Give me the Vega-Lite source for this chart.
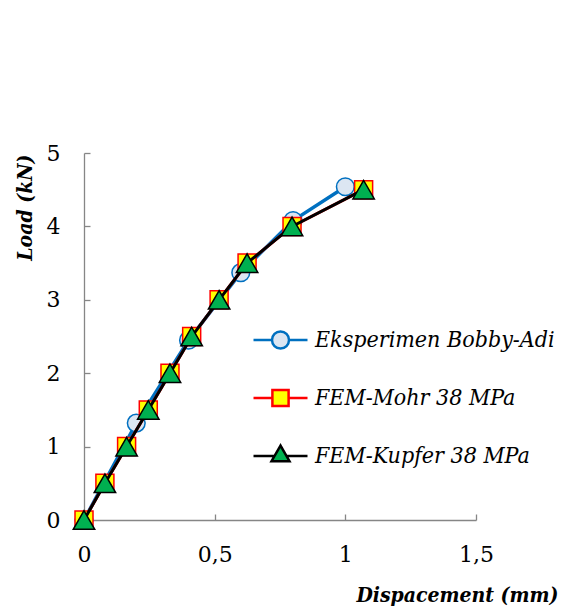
{
  "$schema": "https://vega.github.io/schema/vega-lite/v6.json",
  "width": 392,
  "height": 367,
  "autosize": {"type": "none"},
  "padding": {"left": 84, "top": 153, "right": 87, "bottom": 91},
  "background": "white",
  "config": {
    "view": {"stroke": null},
    "legend": {
      "orient": "none", "legendX": 168, "legendY": 158, "title": null,
      "padding": 0, "symbolSize": 2916, "symbolStrokeWidth": 2.5, "symbolOpacity": 1,
      "labelFont": "DejaVu Serif Condensed", "labelFontSize": 23, "labelFontStyle": "italic", "labelColor": "black",
      "labelOffset": 6, "rowPadding": 0, "clipHeight": 58, "labelLimit": 400
    }
  },
  "data": {
    "values": [
      {"series": "\u00a0Eksperimen Bobby-Adi", "disp": 0, "load": 0},
      {"series": "\u00a0Eksperimen Bobby-Adi", "disp": 0.2, "load": 1.32},
      {"series": "\u00a0Eksperimen Bobby-Adi", "disp": 0.4, "load": 2.45},
      {"series": "\u00a0Eksperimen Bobby-Adi", "disp": 0.6, "load": 3.37},
      {"series": "\u00a0Eksperimen Bobby-Adi", "disp": 0.8, "load": 4.08},
      {"series": "\u00a0Eksperimen Bobby-Adi", "disp": 1.0, "load": 4.54},
      {"series": "FEM-Mohr 38 MPa", "disp": 0, "load": 0},
      {"series": "FEM-Mohr 38 MPa", "disp": 0.08, "load": 0.5},
      {"series": "FEM-Mohr 38 MPa", "disp": 0.163, "load": 1.0},
      {"series": "FEM-Mohr 38 MPa", "disp": 0.246, "load": 1.5},
      {"series": "FEM-Mohr 38 MPa", "disp": 0.329, "load": 2.0},
      {"series": "FEM-Mohr 38 MPa", "disp": 0.412, "load": 2.5},
      {"series": "FEM-Mohr 38 MPa", "disp": 0.517, "load": 3.0},
      {"series": "FEM-Mohr 38 MPa", "disp": 0.624, "load": 3.5},
      {"series": "FEM-Mohr 38 MPa", "disp": 0.796, "load": 4.0},
      {"series": "FEM-Mohr 38 MPa", "disp": 1.07, "load": 4.5},
      {"series": "FEM-Kupfer 38 MPa", "disp": 0, "load": 0},
      {"series": "FEM-Kupfer 38 MPa", "disp": 0.08, "load": 0.5},
      {"series": "FEM-Kupfer 38 MPa", "disp": 0.163, "load": 1.0},
      {"series": "FEM-Kupfer 38 MPa", "disp": 0.246, "load": 1.5},
      {"series": "FEM-Kupfer 38 MPa", "disp": 0.329, "load": 2.0},
      {"series": "FEM-Kupfer 38 MPa", "disp": 0.412, "load": 2.5},
      {"series": "FEM-Kupfer 38 MPa", "disp": 0.517, "load": 3.0},
      {"series": "FEM-Kupfer 38 MPa", "disp": 0.624, "load": 3.5},
      {"series": "FEM-Kupfer 38 MPa", "disp": 0.796, "load": 4.0},
      {"series": "FEM-Kupfer 38 MPa", "disp": 1.07, "load": 4.5}
    ]
  },
  "encoding": {
    "x": {
      "field": "disp", "type": "quantitative",
      "scale": {"domain": [0, 1.5], "nice": false, "zero": false},
      "axis": {
        "values": [0, 0.5, 1, 1.5], "grid": false,
        "domainColor": "#868686", "domainWidth": 1.3,
        "tickColor": "#868686", "tickSize": -6, "tickWidth": 1.3,
        "labelFont": "DejaVu Serif", "labelFontSize": 22, "labelColor": "black",
        "labelPadding": 30, "labelFlush": false,
        "labelExpr": "replace(format(datum.value, '~g'), '.', ',')",
        "title": "Dispacement (mm)",
        "titleFont": "DejaVu Serif Condensed", "titleFontSize": 21, "titleFontStyle": "italic", "titleFontWeight": "bold", "titleColor": "black",
        "titleAnchor": null, "titleAlign": "right", "titleBaseline": "alphabetic",
        "titleX": 474, "titleY": 81
      }
    },
    "y": {
      "field": "load", "type": "quantitative",
      "scale": {"domain": [0, 5], "nice": false},
      "axis": {
        "values": [0, 1, 2, 3, 4, 5], "grid": false,
        "domainColor": "#868686", "domainWidth": 1.3,
        "tickColor": "#868686", "tickSize": -6, "tickWidth": 1.3,
        "labelFont": "DejaVu Serif", "labelFontSize": 22, "labelColor": "black",
        "labelPadding": 30, "labelFlush": false,
        "title": "Load (kN)",
        "titleFont": "DejaVu Serif Condensed", "titleFontSize": 21, "titleFontStyle": "italic", "titleFontWeight": "bold", "titleColor": "black",
        "titleAngle": -90, "titleAlign": "right", "titleBaseline": "alphabetic",
        "titleX": -53, "titleY": 1
      }
    },
    "stroke": {
      "field": "series", "type": "nominal",
      "scale": {
        "domain": ["\u00a0Eksperimen Bobby-Adi", "FEM-Mohr 38 MPa", "FEM-Kupfer 38 MPa"],
        "range": ["#0070C0", "#FF0000", "#000000"]
      }
    }
  },
  "layer": [
    {
      "mark": {"type": "point", "size": 0, "strokeWidth": 0, "opacity": 1, "filled": false},
      "encoding": {
        "fill": {"field": "series", "type": "nominal", "scale": {"domain": ["\u00a0Eksperimen Bobby-Adi", "FEM-Mohr 38 MPa", "FEM-Kupfer 38 MPa"], "range": ["#DCE6F2", "#FFFF00", "#00B050"]}},
        "shape": {"field": "series", "type": "nominal", "scale": {"domain": ["\u00a0Eksperimen Bobby-Adi", "FEM-Mohr 38 MPa", "FEM-Kupfer 38 MPa"], "range": [
          "M-1,0H-0.315M0.315,0H1M0.315,0A0.315,0.315 0 1,1 -0.315,0A0.315,0.315 0 1,1 0.315,0Z",
          "M-1,0H-0.3M0.3,0H1M-0.3,-0.3H0.3V0.3H-0.3Z",
          "M-1,0H-0.222M0.222,0H1M0,-0.385L-0.333,0.192L0.333,0.192Z"
        ]}}
      }
    },
    {
      "transform": [{"filter": "datum.series === '\u00a0Eksperimen Bobby-Adi'"}],
      "mark": {"type": "line", "strokeWidth": 3.5}
    },
    {
      "transform": [{"filter": "datum.series === '\u00a0Eksperimen Bobby-Adi'"}],
      "mark": {"type": "point", "shape": "circle", "fill": "#DCE6F2", "size": 314, "strokeWidth": 1.5, "opacity": 1, "filled": true}
    },
    {
      "transform": [{"filter": "datum.series === 'FEM-Mohr 38 MPa'"}],
      "mark": {"type": "line", "strokeWidth": 3}
    },
    {
      "transform": [{"filter": "datum.series === 'FEM-Mohr 38 MPa'"}],
      "mark": {"type": "point", "shape": "square", "fill": "#FFFF00", "size": 324, "strokeWidth": 1.5, "opacity": 1, "filled": true}
    },
    {
      "transform": [{"filter": "datum.series === 'FEM-Kupfer 38 MPa'"}],
      "mark": {"type": "line", "strokeWidth": 3}
    },
    {
      "transform": [{"filter": "datum.series === 'FEM-Kupfer 38 MPa'"}],
      "mark": {"type": "point", "shape": "triangle-up", "fill": "#00B050", "size": 460, "strokeWidth": 1.5, "opacity": 1, "filled": true}
    }
  ]
}
